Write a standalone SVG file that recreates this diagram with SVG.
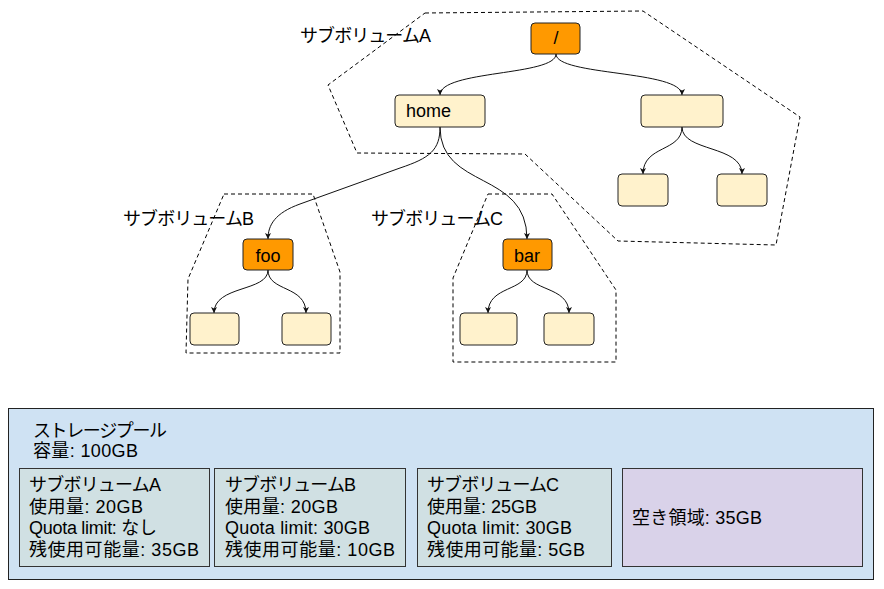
<svg xmlns="http://www.w3.org/2000/svg" width="884" height="589" viewBox="0 0 884 589">
<style>
text{font-family:"Liberation Sans","Noto Sans CJK JP",sans-serif;font-size:18px;fill:#000}
.n1{fill:#FF9900;stroke:#222;stroke-width:1}
.n2{fill:#FFF2CC;stroke:#222;stroke-width:1}
.zone{fill:none;stroke:#000;stroke-width:1;stroke-dasharray:4 3}
.edge{fill:none;stroke:#111;stroke-width:1;marker-end:url(#arr)}
.sv{fill:#D0E0E3;stroke:#333;stroke-width:1}
.c{text-anchor:middle}
</style>
<defs>
<marker id="arr" markerUnits="userSpaceOnUse" markerWidth="8" markerHeight="8" refX="6" refY="3" orient="auto">
<path d="M0,0 L6,3 L0,6 L1.5,3 z" fill="#111"/>
</marker>
</defs>
<rect width="884" height="589" fill="#fff"/>
<g id="zones">
<polygon class="zone" points="425,13 643,11 800,117 776,245 618,241 525,154 357,153 328,85"/>
<polygon class="zone" points="224,194 313,194 340,272 340,353 186,353 188,279"/>
<polygon class="zone" points="488,194 552,194 616,290 616,362 453,362 453,278"/>
<text x="300" y="41.5" textLength="131">サブボリュームA</text>
<text x="123" y="225" textLength="131">サブボリュームB</text>
<text x="371" y="225" textLength="132">サブボリュームC</text>
</g>
<g id="connectors">
<path class="edge" d="M556,54 C556,76 440,70 440,95"/>
<path class="edge" d="M556,54 C556,76 682,70 682,95"/>
<path class="edge" d="M440,127 C440,150 430,158 400,168 L300,204 C275,213 268,225 268,239"/>
<path class="edge" d="M440,127 C440,190 527,170 527,239"/>
<path class="edge" d="M682,127 C682,152 643,145 643,174"/>
<path class="edge" d="M682,127 C682,152 742,145 742,174"/>
<path class="edge" d="M268,270 C268,292 214,285 214,313"/>
<path class="edge" d="M268,270 C268,292 306,285 306,313"/>
<path class="edge" d="M527,270 C527,292 488,285 488,313"/>
<path class="edge" d="M527,270 C527,292 569,285 569,313"/>
</g>
<g id="node-root"><rect class="n1" x="531" y="23" width="49" height="31" rx="4"/><text class="c" x="556" y="44">/</text></g>
<g id="node-home"><rect class="n2" x="395" y="95" width="90" height="32" rx="4"/><text x="406" y="117">home</text></g>
<g id="node-other"><rect class="n2" x="641" y="95" width="82" height="32" rx="4"/></g>
<g id="node-other-c1"><rect class="n2" x="618" y="174" width="50" height="32" rx="4"/></g>
<g id="node-other-c2"><rect class="n2" x="717" y="174" width="50" height="32" rx="4"/></g>
<g id="node-foo"><rect class="n1" x="243" y="239" width="50" height="31" rx="4"/><text class="c" x="268" y="261.5">foo</text></g>
<g id="node-foo-c1"><rect class="n2" x="190" y="313" width="49" height="32" rx="4"/></g>
<g id="node-foo-c2"><rect class="n2" x="282" y="313" width="49" height="32" rx="4"/></g>
<g id="node-bar"><rect class="n1" x="503" y="239" width="49" height="31" rx="4"/><text class="c" x="527" y="261.5">bar</text></g>
<g id="node-bar-c1"><rect class="n2" x="460" y="313" width="57" height="32" rx="4"/></g>
<g id="node-bar-c2"><rect class="n2" x="544" y="313" width="50" height="32" rx="4"/></g>
<g id="pool">
<rect x="8.5" y="408.5" width="865" height="171" fill="#CFE2F3" stroke="#222" stroke-width="1"/>
<text x="33" y="436.5" textLength="134">ストレージプール</text>
<text x="33" y="456.5" textLength="105">容量: 100GB</text>
</g>
<g id="sv-a">
<rect class="sv" x="19.5" y="468.5" width="190" height="98"/>
<text x="29" y="491" textLength="132">サブボリュームA</text>
<text x="29" y="513" textLength="114">使用量: 20GB</text>
<text x="29" y="534" textLength="128">Quota limit: なし</text>
<text x="29" y="556" textLength="170">残使用可能量: 35GB</text>
</g>
<g id="sv-b">
<rect class="sv" x="214.5" y="468.5" width="191" height="98"/>
<text x="225" y="491" textLength="131">サブボリュームB</text>
<text x="225" y="513" textLength="113">使用量: 20GB</text>
<text x="225" y="534" textLength="145">Quota limit: 30GB</text>
<text x="225" y="556" textLength="170">残使用可能量: 10GB</text>
</g>
<g id="sv-c">
<rect class="sv" x="417.5" y="468.5" width="194" height="98"/>
<text x="427" y="491" textLength="132">サブボリュームC</text>
<text x="427" y="513" textLength="110">使用量: 25GB</text>
<text x="427" y="534" textLength="145">Quota limit: 30GB</text>
<text x="427" y="556" textLength="158">残使用可能量: 5GB</text>
</g>
<g id="free">
<rect x="622.5" y="468.5" width="240" height="98" fill="#D9D2E9" stroke="#333" stroke-width="1"/>
<text x="632" y="523.5" textLength="130">空き領域: 35GB</text>
</g>
</svg>
